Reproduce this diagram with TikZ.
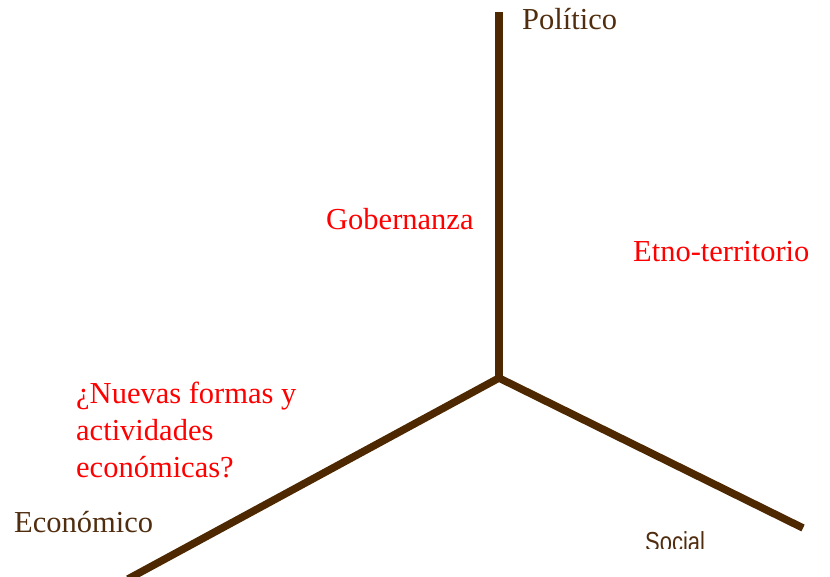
\documentclass[tikz,border=0pt]{standalone}
\usepackage{fontspec}
\setmainfont{Liberation Serif}
\newfontfamily\socialfont[FakeStretch=0.8]{Liberation Sans}
\usetikzlibrary{positioning}
\definecolor{axisbrown}{RGB}{77,40,0}
\definecolor{labelbrown}{RGB}{80,45,15}
\definecolor{notered}{RGB}{255,0,0}
\tikzstyle{axis} = [draw=axisbrown,line width=7.5pt,line join=round]
\tikzstyle{dimension} = [anchor=base west,inner sep=0,text=labelbrown,font=\fontsize{30.5}{37}\selectfont]
\tikzstyle{note} = [anchor=base west,inner sep=0,text=notered,align=left,font=\fontsize{30.5}{37}\selectfont]
\def \tw {830}
\def \th {577}

\begin{document}
\begin{tikzpicture}[x=1pt,y=-1pt]
      \useasboundingbox (0,0) rectangle (\tw,\th);
      \coordinate (o) at (499,378);
      \coordinate (p) at (499,12);
      \coordinate (s) at (803,528);
      \coordinate (e) at (128,579);
      \draw[axis] (p) -- (o);
      \draw[axis] (e) -- (o) -- (s);
      \node[dimension] (pol) at (522,30) {Político};
      \node[dimension] (eco) at (14,532) {Económico};
      % the social label is cut off at its foot
      \begin{scope}
        \clip (0,0) rectangle (\tw,548);
        \node[dimension,font=\socialfont\fontsize{27.5}{30}\selectfont] (soc) at (645,551) {Social};
      \end{scope}
      \node[note] (gob) at (326,230) {Gobernanza};
      \node[note] (etn) at (633,262) {Etno-territorio};
      \node[note] (nue) at (76,477) {¿Nuevas formas y\\actividades\\económicas?};
    \end{tikzpicture}
\end{document}
